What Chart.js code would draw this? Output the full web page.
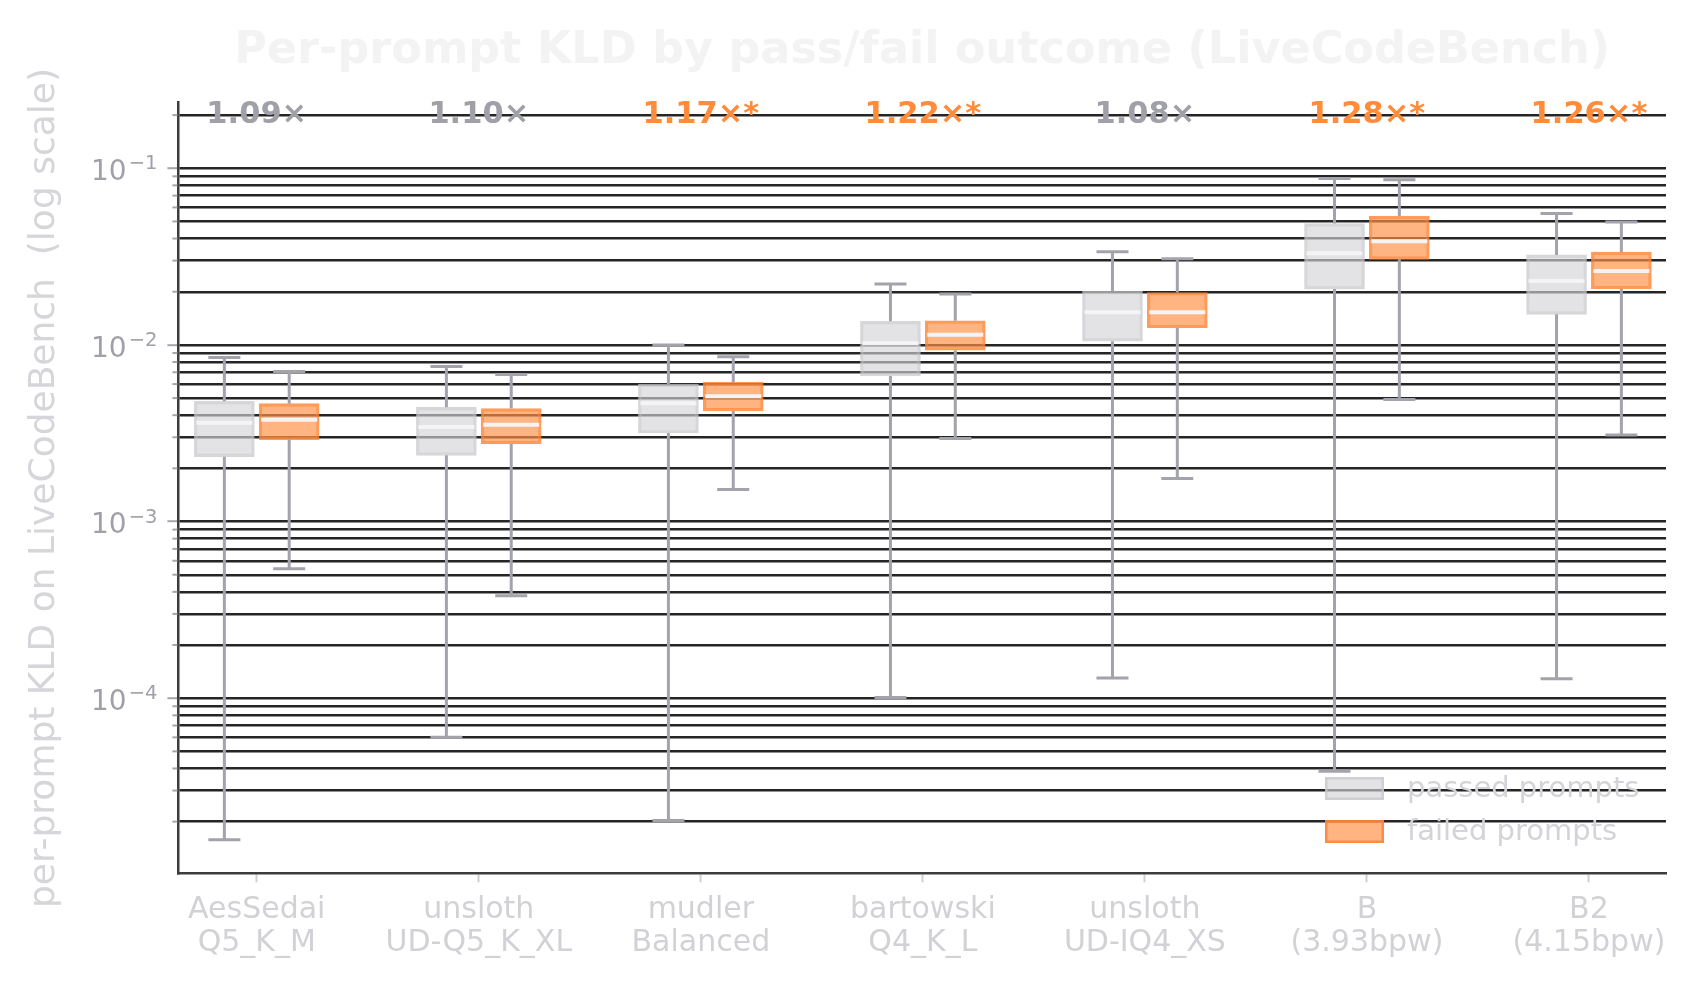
<!DOCTYPE html>
<html lang="en">
<head>
<meta charset="utf-8">
<title>Per-prompt KLD by pass/fail outcome (LiveCodeBench)</title>
<script src="https://cdn.jsdelivr.net/npm/chart.js@4.4.1/dist/chart.umd.min.js"></script>
<style>
    html, body { margin: 0; padding: 0; background: #ffffff; }
    #wrap { width: 1696px; height: 987px; }
</style>
</head>
<body>
<div id="wrap"><canvas id="kld" width="1696" height="987"></canvas></div>
<script>
// quant names, two lines each
const categories = [
    ["AesSedai", "Q5_K_M"],
    ["unsloth", "UD-Q5_K_XL"],
    ["mudler", "Balanced"],
    ["bartowski", "Q4_K_L"],
    ["unsloth", "UD-IQ4_XS"],
    ["B", "(3.93bpw)"],
    ["B2", "(4.15bpw)"]
];

// box stats, passed prompts (whisker low, q1, median, q3, whisker high)
const passedLo  = [1.58e-5, 6.0e-5, 2.03e-5, 1.01e-4, 1.30e-4, 3.86e-5, 1.29e-4];
const passedQ1  = [2.33e-3, 2.37e-3, 3.17e-3, 6.67e-3, 1.05e-2, 2.07e-2, 1.49e-2];
const passedMed = [3.63e-3, 3.43e-3, 4.67e-3, 1.02e-2, 1.53e-2, 3.30e-2, 2.30e-2];
const passedQ3  = [4.79e-3, 4.43e-3, 6.00e-3, 1.36e-2, 2.01e-2, 4.86e-2, 3.23e-2];
const passedHi  = [8.48e-3, 7.55e-3, 1.00e-2, 2.21e-2, 3.37e-2, 8.74e-2, 5.55e-2];

// box stats, failed prompts
const failedLo  = [5.41e-4, 3.80e-4, 1.52e-3, 2.95e-3, 1.75e-3, 4.91e-3, 3.09e-3];
const failedQ1  = [2.91e-3, 2.75e-3, 4.23e-3, 9.33e-3, 1.25e-2, 3.05e-2, 2.08e-2];
const failedMed = [3.77e-3, 3.53e-3, 5.12e-3, 1.14e-2, 1.53e-2, 3.86e-2, 2.62e-2];
const failedQ3  = [4.65e-3, 4.36e-3, 6.13e-3, 1.37e-2, 1.98e-2, 5.36e-2, 3.35e-2];
const failedHi  = [7.07e-3, 6.80e-3, 8.58e-3, 1.94e-2, 3.07e-2, 8.62e-2, 4.97e-2];

// failed/passed median ratio and whether it is significant
const ratios      = ["1.09×", "1.10×", "1.17×", "1.22×", "1.08×", "1.28×", "1.26×"];
const significant = [false, false, true, true, false, true, true];

// y axis
const yMin = 1.02e-5, yMax = 0.235;
const yDecades = [-4, -3, -2, -1];
const yMinorSteps = [1, 2, 3, 4, 5, 6, 7, 8, 9];

const FONT = "'DejaVu Sans', 'Liberation Sans', sans-serif";
const SHIFT = 0.146;        // half distance between passed/failed boxes (x units)
const GREY_TXT = "#a0a0a8";
const ORANGE = "#ff8c3b";
const passFill = "rgba(211,211,214,0.64)", passEdge = "rgba(200,200,204,0.72)";
const failFill = "rgba(255,145,71,0.68)",  failEdge = "rgba(255,130,50,0.8)";

function isDecade(v) {
    const l = Math.log10(v);
    return Math.abs(l - Math.round(l)) < 1e-9;
}

// every 1..9 x 10^k inside the range
const yTickValues = [];
for (let e = -5; e <= 0; e++) {
    yMinorSteps.forEach(m => {
        const v = parseFloat((m * Math.pow(10, e)).toPrecision(6));
        if (v >= yMin && v <= yMax) yTickValues.push(v);
    });
}
const groupX = categories.map((c, i) => i);

const series = [
    { lo: passedLo, q1: passedQ1, med: passedMed, q3: passedQ3, hi: passedHi, shift: -SHIFT },
    { lo: failedLo, q1: failedQ1, med: failedMed, q3: failedQ3, hi: failedHi, shift: SHIFT }
];

const boxExtras = {
    id: "boxExtras",
    afterDatasetsDraw(chart) {
        const { ctx, scales: { x, y } } = chart;
        ctx.save();
        ctx.lineCap = "butt";
        series.forEach(s => {
            groupX.forEach(i => {
                const cx = x.getPixelForValue(i + s.shift);
                // whiskers + caps
                ctx.strokeStyle = "#a3a3ab";
                ctx.lineWidth = 3;
                ctx.beginPath();
                ctx.moveTo(cx, y.getPixelForValue(s.q3[i]));
                ctx.lineTo(cx, y.getPixelForValue(s.hi[i]));
                ctx.moveTo(cx, y.getPixelForValue(s.q1[i]));
                ctx.lineTo(cx, y.getPixelForValue(s.lo[i]));
                ctx.moveTo(cx - 16, y.getPixelForValue(s.hi[i]));
                ctx.lineTo(cx + 16, y.getPixelForValue(s.hi[i]));
                ctx.moveTo(cx - 16, y.getPixelForValue(s.lo[i]));
                ctx.lineTo(cx + 16, y.getPixelForValue(s.lo[i]));
                ctx.stroke();
                // median
                ctx.strokeStyle = "#f4f4f5";
                ctx.lineWidth = 4;
                ctx.beginPath();
                ctx.moveTo(cx - 28, y.getPixelForValue(s.med[i]));
                ctx.lineTo(cx + 28, y.getPixelForValue(s.med[i]));
                ctx.stroke();
            });
        });
        ctx.restore();
    },
    afterDraw(chart) {
        const { ctx, chartArea, scales: { x, y } } = chart;
        ctx.save();
        // minor y ticks
        ctx.strokeStyle = "#a5a5ad";
        ctx.lineWidth = 2;
        yTickValues.filter(v => !isDecade(v)).forEach(v => {
            const py = y.getPixelForValue(v);
            ctx.beginPath();
            ctx.moveTo(chartArea.left - 6, py);
            ctx.lineTo(chartArea.left - 1, py);
            ctx.stroke();
        });
        // decade labels, 10 with a raised exponent
        ctx.fillStyle = GREY_TXT;
        ctx.textAlign = "right";
        ctx.textBaseline = "alphabetic";
        const labelRight = chartArea.left - 21;
        yDecades.forEach(e => {
            const py = y.getPixelForValue(Math.pow(10, e));
            const exp = "\u2212" + Math.abs(e);
            ctx.font = "19.5px " + FONT;
            const ew = ctx.measureText(exp).width;
            ctx.fillText(exp, labelRight, py + 1);
            ctx.font = "28px " + FONT;
            ctx.fillText("10", labelRight - ew - 2, py + 11.7);
        });
        // title
        ctx.fillStyle = "#f3f3f3";
        ctx.font = "bold 44.5px " + FONT;
        ctx.textAlign = "center";
        ctx.fillText("Per-prompt KLD by pass/fail outcome (LiveCodeBench)", (chartArea.left + chartArea.right) / 2, 63);
        // ratio annotations
        ctx.font = "bold 30.5px " + FONT;
        groupX.forEach(i => {
            ctx.fillStyle = significant[i] ? ORANGE : GREY_TXT;
            ctx.fillText(ratios[i] + (significant[i] ? "*" : ""), x.getPixelForValue(i), 123);
        });
        // legend
        const items = [
            { label: "passed prompts", fill: passFill, edge: passEdge, top: 777 },
            { label: "failed prompts", fill: failFill, edge: failEdge, top: 820 }
        ];
        ctx.font = "29px " + FONT;
        ctx.textAlign = "left";
        items.forEach(it => {
            ctx.fillStyle = it.fill;
            ctx.fillRect(1325, it.top, 59, 23);
            ctx.strokeStyle = it.edge;
            ctx.lineWidth = 2.5;
            ctx.strokeRect(1326.25, it.top + 1.25, 56.5, 20.5);
            ctx.fillStyle = "#d4d4d8";
            ctx.fillText(it.label, 1407, it.top + 19.5);
        });
        ctx.restore();
    }
};

new Chart(document.getElementById("kld"), {
    type: "bar",
    data: {
        datasets: [
            {
                label: "passed prompts",
                data: groupX.map(i => ({ x: i - SHIFT, y: [passedQ1[i], passedQ3[i]] })),
                backgroundColor: passFill,
                borderColor: passEdge,
                borderWidth: 2.5,
                borderSkipped: false,
                barThickness: 60,
                grouped: false
            },
            {
                label: "failed prompts",
                data: groupX.map(i => ({ x: i + SHIFT, y: [failedQ1[i], failedQ3[i]] })),
                backgroundColor: failFill,
                borderColor: failEdge,
                borderWidth: 2.5,
                borderSkipped: false,
                barThickness: 60,
                grouped: false
            }
        ]
    },
    options: {
        responsive: false,
        animation: false,
        layout: { padding: { left: 0, right: 30, top: 102.7, bottom: 0 } },
        plugins: {
            legend: { display: false },
            title: { display: false },
            tooltip: { enabled: false }
        },
        scales: {
            x: {
                type: "linear",
                min: -0.353,
                max: 6.347,
                offset: false,
                afterBuildTicks: s => { s.ticks = groupX.map(v => ({ value: v })); },
                afterFit: s => { s.height = 987 - 873.3; },
                ticks: {
                    callback: (v, idx) => categories[idx],
                    autoSkip: false,
                    maxRotation: 0,
                    color: "#d2d2d6",
                    font: { family: FONT, size: 30, lineHeight: 1.11 },
                    padding: 11
                },
                grid: {
                    offset: false,
                    drawOnChartArea: false,
                    drawTicks: true,
                    tickLength: 9,
                    tickColor: "#d0d0d4",
                    tickWidth: 2
                },
                border: { color: "#3c3c3e", width: 2.5 }
            },
            y: {
                type: "logarithmic",
                min: yMin,
                max: yMax,
                afterBuildTicks: s => { s.ticks = yTickValues.map(v => ({ value: v, major: isDecade(v) })); },
                afterFit: s => { s.width = 178.4; },
                ticks: {
                    // decade labels are drawn by the plugin with a real superscript
                    callback: () => "",
                    autoSkip: false,
                    color: GREY_TXT,
                    font: { family: FONT, size: 28 },
                    padding: 9
                },
                grid: {
                    color: "#252525",
                    lineWidth: 2.4,
                    drawTicks: true,
                    tickLength: 11,
                    tickWidth: 2,
                    tickColor: c => (c.tick && isDecade(c.tick.value)) ? "#a5a5ad" : "rgba(0,0,0,0)"
                },
                border: { color: "#3c3c3e", width: 2.5 },
                title: {
                    display: true,
                    text: "per-prompt KLD on LiveCodeBench  (log scale)",
                    color: "#d6d6da",
                    font: { family: FONT, size: 36 },
                    padding: { top: 23, bottom: 0 }
                }
            }
        }
    },
    plugins: [boxExtras]
});
</script>
</body>
</html>
